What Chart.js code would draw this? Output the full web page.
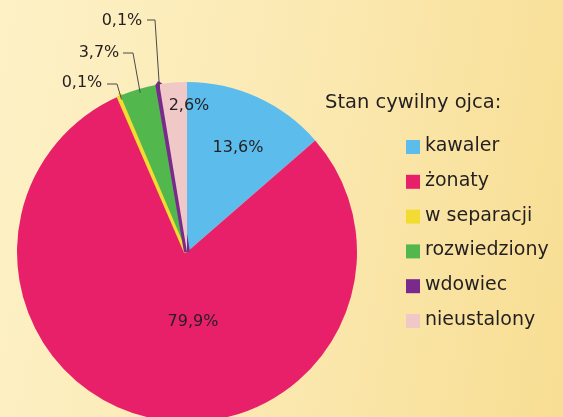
<!DOCTYPE html>
<html>
<head>
<meta charset="utf-8">
<script src="https://cdn.jsdelivr.net/npm/chart.js@4"></script>
<style>
    html, body { margin: 0; padding: 0; }
    body {
        width: 563px;
        height: 417px;
        overflow: hidden;
        background: linear-gradient(100deg, #fdf1c6 0%, #fbe9b2 50%, #f8de93 100%);
    }
    #wrap { width: 563px; height: 425px; position: relative; }
</style>
</head>
<body>
<div id="wrap"><canvas id="pie"></canvas></div>
<script>
// --- Data ---
const categories = ['kawaler', 'żonaty', 'w separacji', 'rozwiedziony', 'wdowiec', 'nieustalony'];
const shares = [13.6, 79.9, 0.1, 3.7, 0.1, 2.6];
const shareLabels = ['13,6%', '79,9%', '0,1%', '3,7%', '0,1%', '2,6%'];
const colors = ['#5cbcec', '#e8206a', '#f2dc32', '#52b84e', '#7a2a8c', '#f0c8c8'];
const legendTitle = 'Stan cywilny ojca:';

const FONT = '"DejaVu Sans", sans-serif';
const TEXT = '#231f20';

// labels inside the pie
const insideLabels = {
    0: { x: 238, y: 148 },
    1: { x: 193, y: 322 },
    5: { x: 189, y: 106 }
};
// outside labels with leader lines
const outsideLabels = {
    2: { text: [82, 83], elbow: [[107, 84], [117, 84]] },
    3: { text: [99, 53], elbow: [[123, 53], [133, 53]] },
    4: { text: [122, 21], elbow: [[147, 20], [155, 20]] }
};

const labelPlugin = {
    id: 'pieLabels',
    afterDraw(chart) {
        const ctx = chart.ctx;
        const meta = chart.getDatasetMeta(0);
        ctx.save();
        ctx.font = '16px ' + FONT;
        ctx.fillStyle = TEXT;
        ctx.textAlign = 'center';
        ctx.textBaseline = 'middle';
        Object.keys(insideLabels).forEach(i => {
            const p = insideLabels[i];
            ctx.fillText(shareLabels[i], p.x, p.y);
        });

        ctx.strokeStyle = '#4a4a4a';
        ctx.lineWidth = 1;
        Object.keys(outsideLabels).forEach(i => {
            const o = outsideLabels[i];
            const arc = meta.data[i];
            const mid = (arc.startAngle + arc.endAngle) / 2;
            const r = arc.outerRadius - 4;
            const ex = arc.x + Math.cos(mid) * r;
            const ey = arc.y + Math.sin(mid) * r;
            ctx.beginPath();
            ctx.moveTo(o.elbow[0][0], o.elbow[0][1]);
            ctx.lineTo(o.elbow[1][0], o.elbow[1][1]);
            ctx.lineTo(ex, ey);
            ctx.stroke();
            ctx.fillText(shareLabels[i], o.text[0], o.text[1]);
        });

        // legend
        ctx.textAlign = 'left';
        ctx.font = '19.5px ' + FONT;
        ctx.fillText(legendTitle, 325, 103);
        ctx.font = '19px ' + FONT;
        categories.forEach((c, i) => {
            const y = 147 + i * 34.8;
            ctx.fillStyle = colors[i];
            ctx.fillRect(406, y - 7, 14, 14);
            ctx.fillStyle = TEXT;
            ctx.fillText(c, 425, y - 1);
        });
        ctx.restore();
    }
};

document.addEventListener('DOMContentLoaded', () => {
    const ctx = document.getElementById('pie').getContext('2d');
    new Chart(ctx, {
        type: 'pie',
        data: {
            labels: categories,
            datasets: [{
                data: shares,
                backgroundColor: colors,
                borderColor: colors,
                // widen the tiny slices a little so they stay visible
                borderWidth: shares.map(v => v < 0.5 ? 6 : 0),
                borderAlign: 'center'
            }]
        },
        options: {
            responsive: true,
            maintainAspectRatio: false,
            animation: false,
            layout: { padding: { left: 14, right: 203, top: 79, bottom: 0 } },
            plugins: {
                legend: { display: false },
                tooltip: { enabled: false }
            }
        },
        plugins: [labelPlugin]
    });
});
</script>
</body>
</html>
